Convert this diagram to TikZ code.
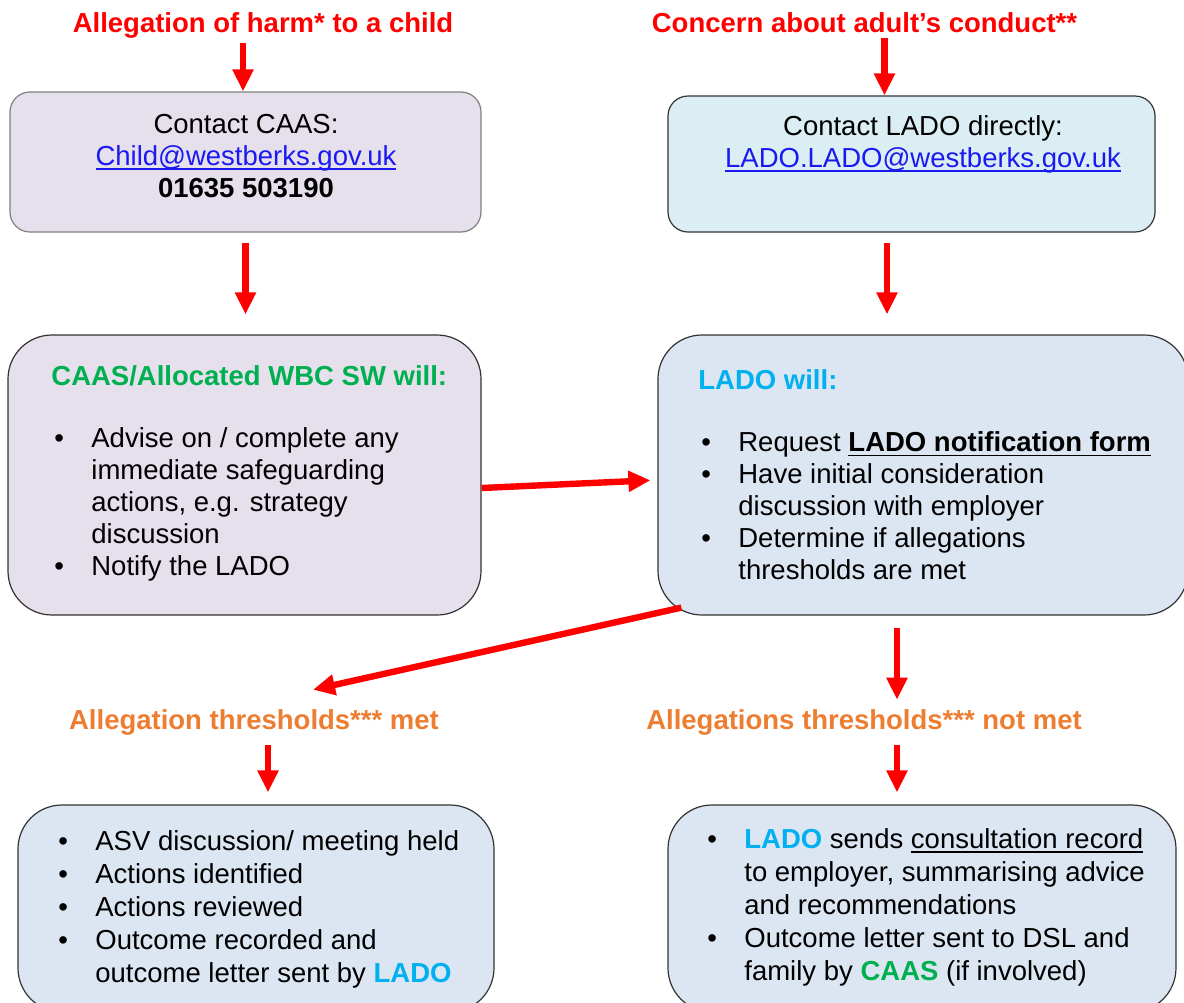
\documentclass[tikz,border=0pt]{standalone}
\usepackage{fontspec}
\setmainfont{Liberation Sans}
\usepackage{xcolor}
\usepackage{tikz}
\usetikzlibrary{
	positioning,
	arrows.meta
}
\definecolor{flowred}{HTML}{FF0000}
\definecolor{flowgreen}{HTML}{00B050}
\definecolor{flowcyan}{HTML}{00B0F0}
\definecolor{floworange}{HTML}{ED7D31}
\definecolor{linkblue}{HTML}{1A1AF0}
\definecolor{caasfill}{HTML}{E5E0EC}
\definecolor{ladofill}{HTML}{DAEEF3}
\definecolor{nextfill}{HTML}{DCE6F2}
\tikzset{
	box/.style={
		draw=black!80, line width=0.6pt, rounded corners=22pt, inner sep=0pt
	},
	smallbox/.style={
		box, rounded corners=10pt
	},
	boxtext/.style={
		inner sep=0pt, align=left, anchor=west
	},
	heading/.style={
		inner sep=0pt, anchor=base, font=\fontsize{13.75}{16}\selectfont\bfseries
	},
	flow/.style={
		draw=flowred, line width=3.2pt, -{Triangle[length=11pt,width=10pt]}
	}
}
\newcommand\bul{\makebox[20pt][l]{\hspace{1.5pt}\textbullet}}
\newcommand\ind{\hspace*{20pt}}
\newcommand\undl[1]{\setbox0\hbox{#1}\rlap{\rule[-2.2pt]{\wd0}{0.8pt}}\box0}

\begin{document}
\begin{tikzpicture}[x=0.5pt, y=-0.5pt, font=\fontsize{13.75}{16}\selectfont]
	\useasboundingbox (0,0) rectangle (1184,1002);

	% titles
	\node[heading, text=flowred] (harm)    at (263,32)   {Allegation of harm* to a child};
	\node[heading, text=flowred] (conduct) at (864.5,32) {Concern about adult’s conduct**};

	% boxes
	\node[smallbox, draw=black!50, fill=caasfill, minimum width=235.5pt, minimum height=70pt] (caas)  at (245.5,162) {};
	\node[smallbox, fill=ladofill, minimum width=243.5pt, minimum height=68pt]                 (ladoc) at (911.5,164) {};
	\node[box, fill=caasfill, minimum width=236.5pt, minimum height=140pt] (caasw) at (244.5,475) {};
	\node[box, fill=nextfill, minimum width=265pt, minimum height=140pt]   (ladow) at (923,475)   {};
	\node[box, fill=nextfill, minimum width=238pt, minimum height=103.5pt] (asv)   at (256,908.5) {};
	\node[box, fill=nextfill, minimum width=254pt, minimum height=103.5pt] (cons)  at (922,908.5) {};

	\node[inner sep=0pt, align=center] (caast) at (246,156) {Contact CAAS:\\
		\textcolor{linkblue}{\undl{Child@westberks.gov.uk}}\\
		\textbf{01635 503190}};
	\node[inner sep=0pt, align=center] (ladoct) at (923,144) {Contact LADO directly:\\
		\textcolor{linkblue}{\undl{LADO.LADO@westberks.gov.uk}}};

	\node[boxtext] (caaswt) at (51,473) {%
		\textcolor{flowgreen}{\textbf{CAAS/Allocated WBC SW will:}}\\[15pt]
		\bul Advise on / complete any\\
		\ind immediate safeguarding\\
		\ind actions, e.g. strategy\\
		\ind discussion\\
		\bul Notify the LADO};
	\node[boxtext] (ladowt) at (698,475) {%
		\textcolor{flowcyan}{\textbf{LADO will:}}\\[15pt]
		\bul Request \textbf{\undl{LADO notification form}}\\
		\bul Have initial consideration\\
		\ind discussion with employer\\
		\bul Determine if allegations\\
		\ind thresholds are met};

	% outcomes
	\node[heading, text=floworange] (met)    at (254,729) {Allegation thresholds*** met};
	\node[heading, text=floworange] (notmet) at (864,729) {Allegations thresholds*** not met};

	\node[boxtext, font=\fontsize{13.75}{16.5}\selectfont] (asvt) at (55,909) {%
		\bul ASV discussion/ meeting held\\
		\bul Actions identified\\
		\bul Actions reviewed\\
		\bul Outcome recorded and\\
		\ind outcome letter sent by \textcolor{flowcyan}{\textbf{LADO}}};
	\node[boxtext, font=\fontsize{13.75}{16.5}\selectfont] (const) at (704,907) {%
		\bul \textcolor{flowcyan}{\textbf{LADO}} sends \undl{consultation record}\\
		\ind to employer, summarising advice\\
		\ind and recommendations\\
		\bul Outcome letter sent to DSL and\\
		\ind family by \textcolor{flowgreen}{\textbf{CAAS}} (if involved)};

	% arrows
	\coordinate (h0) at ([xshift=-10pt]harm.south);
	\coordinate (c0) at ([xshift=10pt]conduct.south);
	\coordinate (l0) at ([xshift=-12.25pt]ladoc.south);
	\coordinate (w0) at ([xshift=-13pt]ladow.south);
	\coordinate (w1) at ([xshift=12pt,yshift=4pt]ladow.south west);
	\coordinate (m1) at ([xshift=29.5pt,yshift=9.5pt]met.north);
	\coordinate (m0) at ([xshift=7pt]met.south);
	\coordinate (n0) at ([xshift=16.5pt]notmet.south);

	\draw[flow, shorten <=2.5pt] (h0) -- (h0 |- caas.north);
	\draw[flow, shorten <=5pt, shorten >=10pt] (caas.south) -- (caas.south |- caasw.north);
	\draw[flow, shorten <=2.5pt] (c0) -- (c0 |- ladoc.north);
	\draw[flow, shorten <=5pt, shorten >=10pt] (l0) -- (l0 |- ladow.north);
	\draw[flow, shorten >=3.5pt] ([yshift=-6.5pt]caasw.east) -- ([yshift=-2.5pt]ladow.west);
	\draw[flow] (w1) -- (m1);
	\draw[flow, shorten <=6pt, shorten >=4.5pt] (w0) -- (w0 |- notmet.north);
	\draw[flow, shorten <=5pt, shorten >=6pt] (m0) -- (m0 |- asv.north);
	\draw[flow, shorten <=5pt, shorten >=6pt] (n0) -- (n0 |- cons.north);
\end{tikzpicture}
\end{document}
